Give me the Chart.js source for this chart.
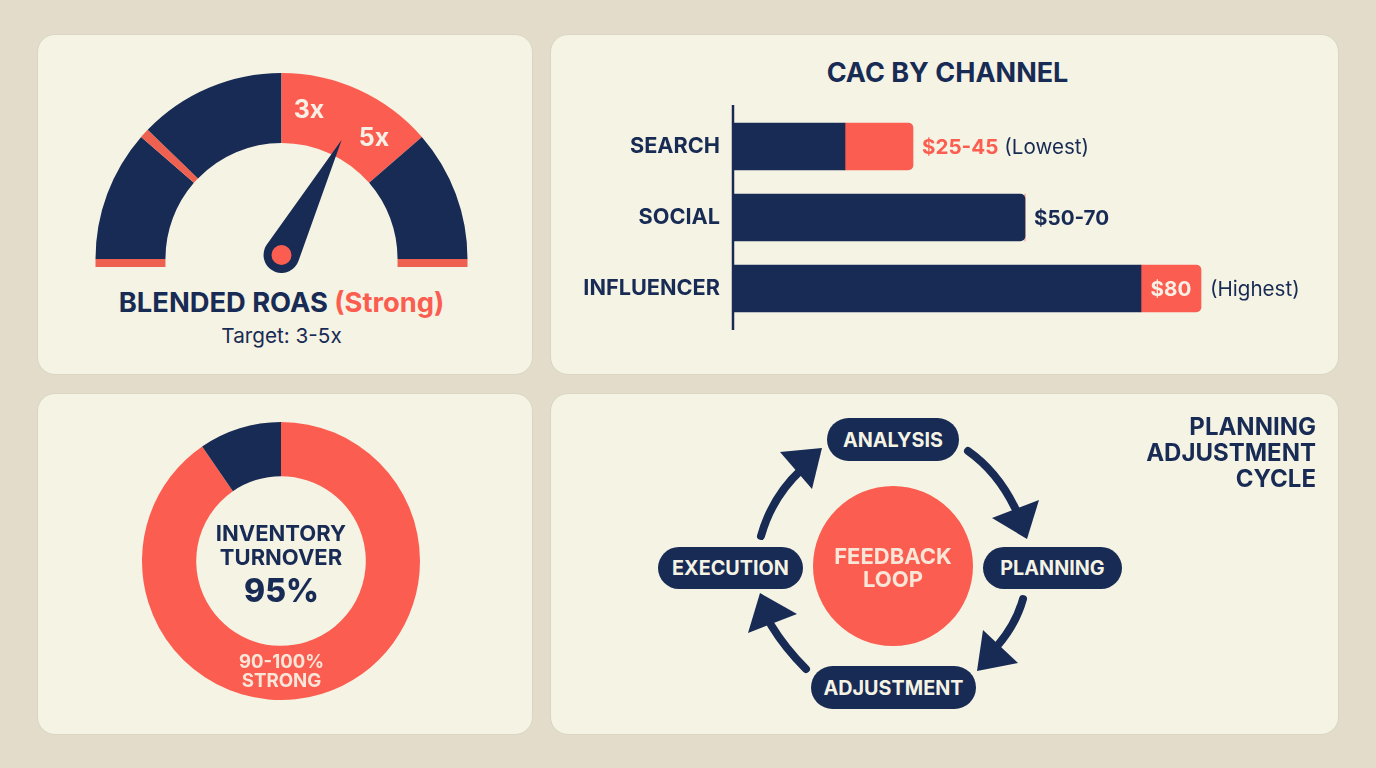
<!DOCTYPE html>
<html>
<head>
<meta charset="utf-8">
<title>Marketing dashboard</title>
<script src="https://cdn.jsdelivr.net/npm/chart.js@4/dist/chart.umd.min.js"></script>
<style>
  html, body { margin: 0; padding: 0; }
  body { width: 1376px; height: 768px; background: #e3dccb; overflow: hidden; position: relative;
         font-family: "Inter", sans-serif; color: #182b54; }
  .panel { position: absolute; background: #f5f3e4; border: 1px solid #d9d5c3; border-radius: 18px; box-sizing: border-box; }
  canvas { position: absolute; }
  .t { position: absolute; white-space: nowrap; text-align: center; transform: translate(-50%, -50%); font-weight: 700; line-height: 1; }
  .r { position: absolute; white-space: nowrap; right: 60px; transform: translateY(-50%); font-weight: 700; line-height: 1; font-size: 24px; }
  .pill { position: absolute; background: #182b54; color: #f5f3e4; border-radius: 22px; display: flex; align-items: center;
          justify-content: center; font-weight: 700; font-size: 19.8px; }
  .red { color: #fb5e50; }
  svg { position: absolute; left: 0; top: 0; }
</style>
</head>
<body>
<div class="panel" style="left:37px;top:34px;width:496px;height:341px"></div>
<div class="panel" style="left:550px;top:34px;width:789px;height:341px"></div>
<div class="panel" style="left:37px;top:393px;width:496px;height:342px"></div>
<div class="panel" style="left:550px;top:393px;width:789px;height:342px"></div>

<canvas id="gaugeChart" width="383" height="213" style="left:90px;top:66px"></canvas>
<canvas id="cacChart" width="770" height="240" style="left:560px;top:100px"></canvas>
<canvas id="turnoverChart" width="278" height="278" style="left:142px;top:422px"></canvas>
<canvas id="loopChart" width="160" height="160" style="left:813px;top:486px"></canvas>

<!-- Gauge -->
<div class="t" style="left:309px;top:109px;font-size:25px;color:#f8f0e6">3x</div>
<div class="t" style="left:374px;top:137px;font-size:25px;color:#f8f0e6">5x</div>
<div class="t" style="left:281.5px;top:303px;font-size:27.3px">BLENDED ROAS <span class="red">(Strong)</span></div>
<div class="t" style="left:281.5px;top:336px;font-size:20.7px;font-weight:400">Target: 3-5x</div>

<!-- Barras -->
<div class="t" style="left:947.5px;top:72px;font-size:27px">CAC BY CHANNEL</div>

<!-- Dona -->
<div class="t" style="left:281px;top:533px;font-size:22px">INVENTORY</div>
<div class="t" style="left:281px;top:557px;font-size:22px">TURNOVER</div>
<div class="t" style="left:281.5px;top:591px;font-size:32px;font-weight:800">95%</div>
<div class="t" style="left:281.5px;top:661px;font-size:18.5px;color:#f8e6d8">90-100%</div>
<div class="t" style="left:281.5px;top:681px;font-size:18.7px;color:#f8e6d8">STRONG</div>

<!-- Ciclo -->
<svg width="1376" height="768">
  <g fill="none" stroke="#182b54" stroke-width="8" stroke-linecap="round">
    <path d="M968 451 Q998 472 1016 510"/>
    <path d="M1023 599 Q1016 624 998 645"/>
    <path d="M806 669 Q785 648 771 625"/>
    <path d="M761 536 Q772 497 801 470"/>
  </g>
  <g fill="#182b54">
    <path d="M992 518 L1039 500 L1027 539 Z"/>
    <path d="M983 630 L1018 663 L977 671 Z"/>
    <path d="M797 614 L760 593 L748 633 Z"/>
    <path d="M780 452 L822 448 L812 489 Z"/>
  </g>
</svg>
<div class="pill" style="left:827px;top:418px;width:132px;height:43px">ANALYSIS</div>
<div class="pill" style="left:983px;top:547px;width:139px;height:42px">PLANNING</div>
<div class="pill" style="left:658px;top:547px;width:145px;height:42px">EXECUTION</div>
<div class="pill" style="left:811px;top:666px;width:165px;height:43px">ADJUSTMENT</div>
<div class="t" style="left:893px;top:556px;font-size:22px;color:#f8e6d8">FEEDBACK</div>
<div class="t" style="left:893px;top:579px;font-size:22px;color:#f8e6d8">LOOP</div>
<div class="r" style="top:427px">PLANNING</div>
<div class="r" style="top:453px">ADJUSTMENT</div>
<div class="r" style="top:479px">CYCLE</div>

<script>
const navy = '#182b54';
const red = '#fb5e50';

// Gauge, tramos en grados de la media luna
const gaugeSegments = [41, 3, 46, 49, 41];
const gaugeColors = [navy, '#ee6150', navy, red, navy];
const gaugeNeedle = 117.6;

// CAC por canal, largo de barra
const channels = ['SEARCH', 'SOCIAL', 'INFLUENCER'];
const cacBase = [28, 73, 102];
const cacHighlight = [17, 0, 15];
const cacLabels = ['$25-45', '$50-70', '$80'];
const cacNotes = ['(Lowest)', '', '(Highest)'];

// Rotacion de inventario
const turnoverValues = [90.4, 9.6];

// Circulo central
const loopValues = [100];

Chart.defaults.animation = false;
Chart.defaults.responsive = false;
Chart.defaults.plugins.legend.display = false;
Chart.defaults.plugins.tooltip.enabled = false;

// Aguja y franjas de la base del gauge
const gaugeExtras = {
    id: 'gaugeExtras',
    afterDatasetsDraw(chart) {
        const ctx = chart.ctx;
        const arc = chart.getDatasetMeta(0).data[0];
        const { x, y, innerRadius, outerRadius } = arc;
        ctx.save();
        ctx.fillStyle = '#ee6150';
        ctx.fillRect(x - outerRadius, y, outerRadius - innerRadius, 8);
        ctx.fillRect(x + innerRadius, y, outerRadius - innerRadius, 8);

        const hubY = y - 4;
        const hubR = 18;
        const len = 130;
        const angle = (gaugeNeedle / 180) * Math.PI - Math.PI;
        const tipX = x + Math.cos(angle) * len;
        const tipY = hubY + Math.sin(angle) * len;
        const spread = Math.acos(hubR / len);
        ctx.fillStyle = navy;
        ctx.beginPath();
        ctx.arc(x, hubY, hubR, angle + spread, angle - spread);
        ctx.lineTo(tipX, tipY);
        ctx.closePath();
        ctx.fill();
        ctx.fillStyle = red;
        ctx.beginPath();
        ctx.arc(x, hubY, 10, 0, Math.PI * 2);
        ctx.fill();
        ctx.restore();
    }
};

new Chart(document.getElementById('gaugeChart'), {
    type: 'doughnut',
    data: {
        labels: ['a', 'b', 'c', 'd', 'e'],
        datasets: [{ data: gaugeSegments, backgroundColor: gaugeColors, borderWidth: 0 }]
    },
    options: {
        rotation: -90,
        circumference: 180,
        cutout: '62.4%',
        layout: { padding: { left: 5.5, right: 5.5, top: 7, bottom: 20 } }
    },
    plugins: [gaugeExtras]
});

// Eje vertical y etiquetas de valor de las barras
const cacExtras = {
    id: 'cacExtras',
    afterDatasetsDraw(chart) {
        const ctx = chart.ctx;
        const area = chart.chartArea;
        const base = chart.getDatasetMeta(0).data;
        const top = chart.getDatasetMeta(1).data;
        ctx.save();
        ctx.strokeStyle = navy;
        ctx.lineWidth = 2.5;
        ctx.beginPath();
        ctx.moveTo(area.left, area.top - 6);
        ctx.lineTo(area.left, area.bottom + 6);
        ctx.stroke();
        ctx.textBaseline = 'middle';
        channels.forEach((c, i) => {
            const end = top[i].x;
            const y = top[i].y + 1;
            let x = end + 9;
            ctx.font = '700 20.6px Inter';
            if (i === 2) {
                ctx.fillStyle = '#f8f0e6';
                ctx.textAlign = 'center';
                ctx.fillText(cacLabels[i], (base[i].x + end) / 2, y);
            } else {
                ctx.fillStyle = i === 0 ? red : navy;
                ctx.textAlign = 'left';
                ctx.fillText(cacLabels[i], x, y);
                x += ctx.measureText(cacLabels[i]).width + 6;
            }
            if (cacNotes[i]) {
                ctx.font = '400 20.6px Inter';
                ctx.fillStyle = navy;
                ctx.textAlign = 'left';
                ctx.fillText(cacNotes[i], x, y);
            }
        });
        ctx.restore();
    }
};

const rightRound = { topLeft: 0, bottomLeft: 0, topRight: 5, bottomRight: 5 };

new Chart(document.getElementById('cacChart'), {
    type: 'bar',
    data: {
        labels: channels,
        datasets: [
            {
                data: cacBase,
                backgroundColor: navy,
                barThickness: 47,
                borderSkipped: false,
                borderRadius: (c) => (cacHighlight[c.dataIndex] === 0 ? rightRound : 0)
            },
            {
                data: cacHighlight,
                backgroundColor: red,
                barThickness: 47,
                borderSkipped: false,
                borderRadius: rightRound
            }
        ]
    },
    options: {
        indexAxis: 'y',
        layout: { padding: { top: 11, bottom: 16, right: 5 } },
        scales: {
            x: { stacked: true, display: false, min: 0, max: 148 },
            y: {
                stacked: true,
                afterFit: (scale) => {
                    scale.width = 173;
                    scale.paddingTop = 0;
                    scale.paddingBottom = 0;
                },
                grid: { display: false, drawTicks: false },
                border: { display: false },
                ticks: { color: navy, padding: 13, font: { family: 'Inter', weight: '700', size: 21.7 } }
            }
        }
    },
    plugins: [cacExtras]
});

new Chart(document.getElementById('turnoverChart'), {
    type: 'doughnut',
    data: {
        labels: ['Turnover', 'Rest'],
        datasets: [{ data: turnoverValues, backgroundColor: [red, navy], borderWidth: 0 }]
    },
    options: { cutout: '61%' }
});

new Chart(document.getElementById('loopChart'), {
    type: 'pie',
    data: {
        labels: ['Feedback loop'],
        datasets: [{ data: loopValues, backgroundColor: [red], borderWidth: 0 }]
    }
});
</script>
</body>
</html>
